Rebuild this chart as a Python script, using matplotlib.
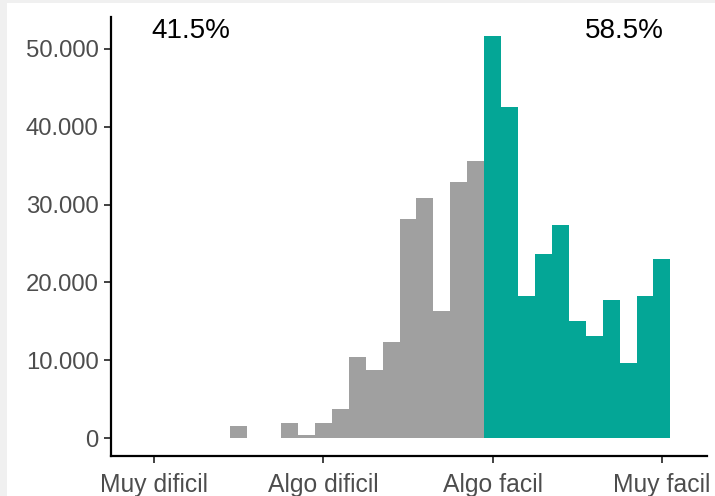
import matplotlib
matplotlib.use("Agg")
import matplotlib.pyplot as plt
from matplotlib.patches import Rectangle

plt.rcParams['font.family'] = ['Liberation Sans', 'DejaVu Sans']

# Data (bin centers, width 0.1)
gray_x = [1.5, 1.6, 1.7, 1.8, 1.9, 2.0, 2.1, 2.2, 2.3, 2.4, 2.5, 2.6, 2.7, 2.8, 2.9]
gray_y = [1600, 0, 0, 2000, 400, 2000, 3700, 10400, 8700, 12300, 28100, 30800, 16300, 32900, 35600]
teal_x = [3.0, 3.1, 3.2, 3.3, 3.4, 3.5, 3.6, 3.7, 3.8, 3.9, 4.0]
teal_y = [51600, 42500, 18200, 23700, 27400, 15000, 13100, 17700, 9700, 18200, 23000]

x_ticks = [1, 2, 3, 4]
x_labels = ["Muy dificil", "Algo dificil", "Algo facil", "Muy facil"]
y_ticks = [0, 10000, 20000, 30000, 40000, 50000]
y_labels = ["0", "10.000", "20.000", "30.000", "40.000", "50.000"]
pct_labels = ["41.5%", "58.5%"]
pct_x = [1.22, 3.78]

fig = plt.figure(figsize=(7.15, 4.96), dpi=100)
fig.patch.set_facecolor('#f0f0f0')
fig.patches.append(Rectangle((7/715, 0), 1, (493)/496, transform=fig.transFigure,
                             facecolor='white', edgecolor='none', zorder=-10))

ax = fig.add_axes([111/715, 40/496, (707-111)/715, (456-17)/496])
ax.set_facecolor('white')
ax.patch.set_alpha(0)

ax.bar(gray_x, gray_y, width=0.1, color='#a0a0a0', edgecolor='none', align='center')
ax.bar(teal_x, teal_y, width=0.1, color='#04a696', edgecolor='none', align='center')

ax.set_xlim(0.746, 4.266)
ax.set_ylim(-2300, 54100)

ax.set_xticks(x_ticks)
ax.set_xticklabels(x_labels)
ax.set_yticks(y_ticks)
ax.set_yticklabels(y_labels)

for s in ['top', 'right']:
    ax.spines[s].set_visible(False)
for s in ['left', 'bottom']:
    ax.spines[s].set_linewidth(1.6)
    ax.spines[s].set_color('black')

ax.tick_params(axis='both', length=5, width=1.3, color='#333333',
               labelcolor='#4d4d4d')
ax.tick_params(axis='x', labelsize=17.8, pad=7)
ax.tick_params(axis='y', labelsize=17.2, pad=4)

for t, xx in zip(pct_labels, pct_x):
    ax.text(xx, 52300, t, ha='center', va='center', fontsize=20, color='black')

fig.savefig('out.png', dpi=100, facecolor=fig.get_facecolor())
